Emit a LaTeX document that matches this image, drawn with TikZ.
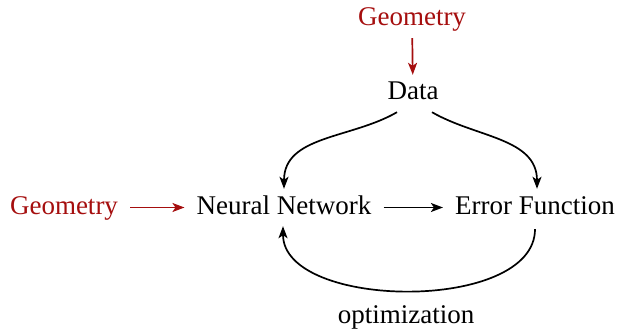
\documentclass[tikz,border=0pt]{standalone}
\usepackage{fontspec}
\setmainfont{Liberation Serif}
\usetikzlibrary{arrows.meta}
\definecolor{geored}{RGB}{165,14,14}
\begin{document}
\begin{tikzpicture}[x=1pt,y=1pt,
  lbl/.style={anchor=base,inner xsep=12pt,inner ysep=5pt,text height=20pt,text depth=7pt,font=\fontsize{27}{32}\selectfont},
  conn/.style={line width=1.7pt,-{Stealth[length=12pt,width=9pt,inset=3pt]}},
  redconn/.style={conn,draw=geored}]
\useasboundingbox (0,0) rectangle (618,330);
\node[lbl,text=geored] (geotop) at (412,304) {Geometry};
\node[lbl] (data) at (413,230) {Data};
\node[lbl] (nn) at (284,116) {Neural Network};
\node[lbl] (ef) at (535,116) {Error Function};
\node[lbl,text=geored] (geoleft) at (64,116) {Geometry};
\node[lbl] (opt) at (406,7) {optimization};
\draw[redconn] (geotop) -- (data);
\draw[redconn] (geoleft) -- (nn);
\draw[conn] (nn) -- (ef);
\draw[conn] ([xshift=-16pt]data.south) to[out=210,in=90] (nn.north);
\draw[conn] ([xshift=19pt]data.south) to[out=-30,in=90] ([xshift=2pt]ef.north);
\draw[conn] ([yshift=-3pt]ef.south) to[out=-90,in=-90,looseness=0.85] ([xshift=-1pt]nn.south);
\end{tikzpicture}
\end{document}
